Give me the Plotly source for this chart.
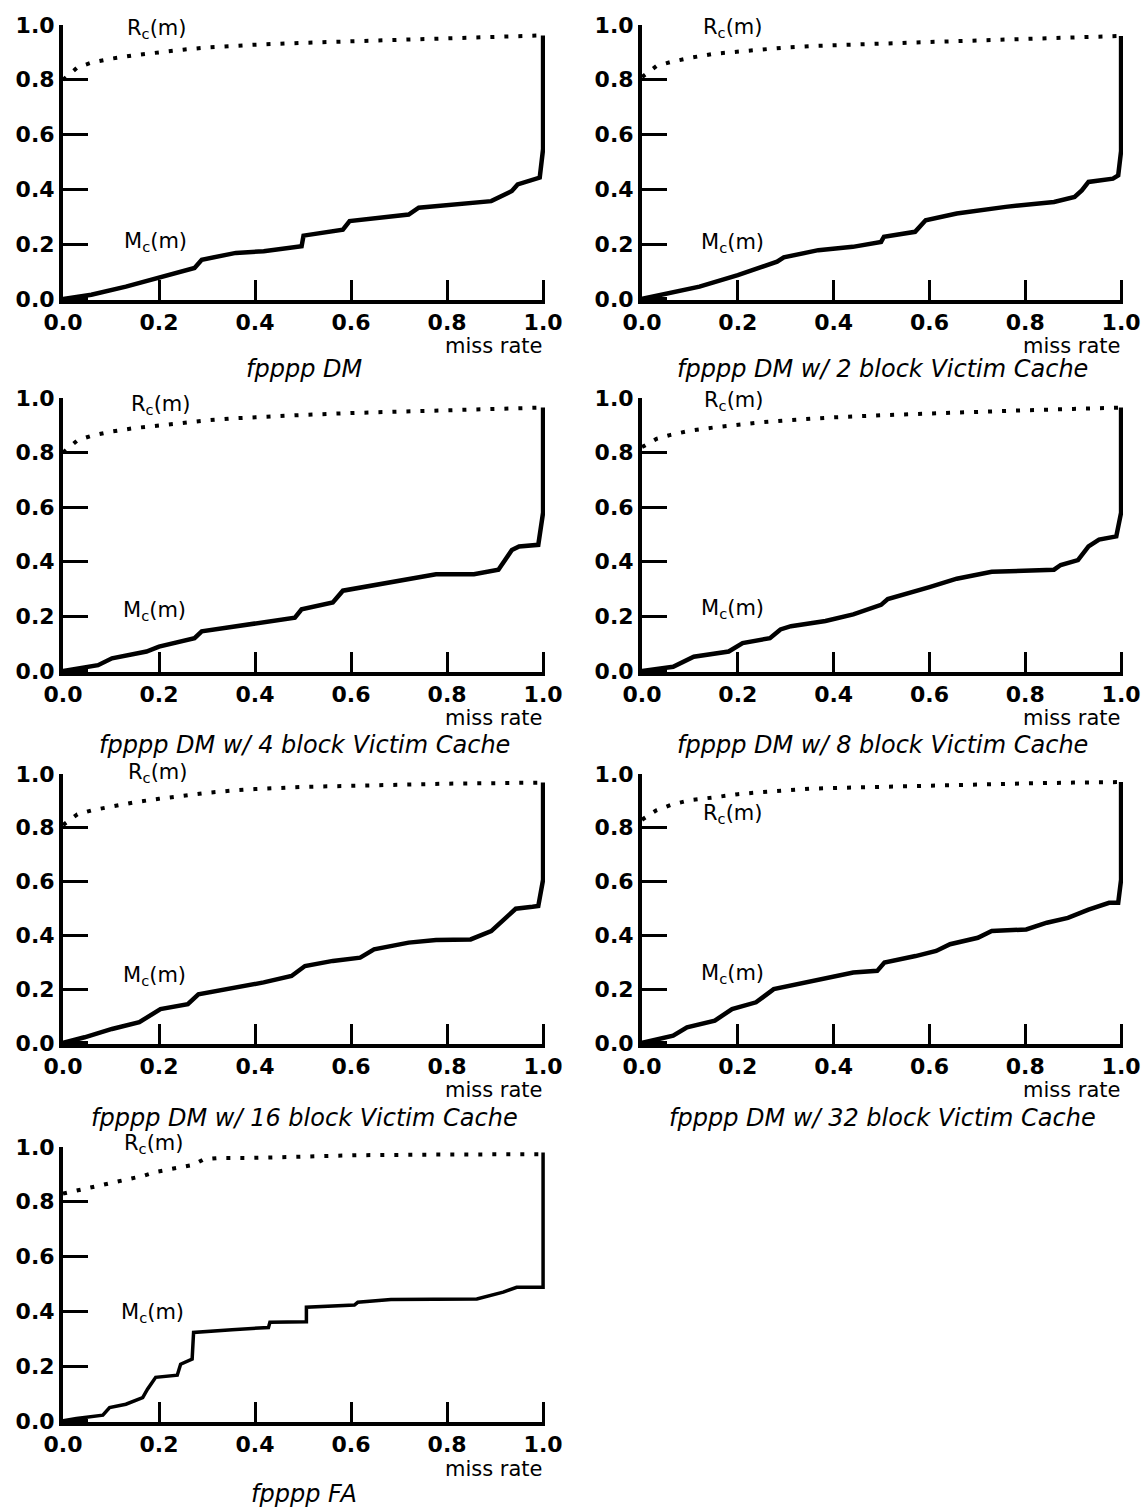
import plotly.graph_objects as go

# ---------------- data ----------------
titles = [
    "fpppp DM",
    "fpppp DM w/ 2 block Victim Cache",
    "fpppp DM w/ 4 block Victim Cache",
    "fpppp DM w/ 8 block Victim Cache",
    "fpppp DM w/ 16 block Victim Cache",
    "fpppp DM w/ 32 block Victim Cache",
    "fpppp FA",
]

r_x = [0.0, 0.03, 0.06, 0.1, 0.15, 0.2, 0.25, 0.3, 0.35, 0.4, 0.5, 0.6, 0.7, 0.8, 0.9, 1.0]
r1_y = [0.80, 0.845, 0.863, 0.877, 0.89, 0.901, 0.91, 0.918, 0.924, 0.928, 0.935, 0.941, 0.947, 0.952, 0.957, 0.962]
r2_y = [0.81, 0.85, 0.865, 0.88, 0.895, 0.903, 0.912, 0.918, 0.923, 0.927, 0.932, 0.938, 0.944, 0.95, 0.955, 0.96]
r3_y = [0.80, 0.845, 0.862, 0.877, 0.89, 0.90, 0.91, 0.918, 0.925, 0.93, 0.938, 0.945, 0.95, 0.955, 0.96, 0.965]
r4_y = [0.82, 0.85, 0.865, 0.88, 0.892, 0.902, 0.911, 0.918, 0.924, 0.929, 0.937, 0.944, 0.95, 0.955, 0.96, 0.965]
r5_y = [0.81, 0.85, 0.865, 0.88, 0.895, 0.908, 0.92, 0.93, 0.938, 0.944, 0.952, 0.957, 0.961, 0.964, 0.966, 0.968]
r6_y = [0.83, 0.865, 0.885, 0.903, 0.913, 0.925, 0.933, 0.94, 0.945, 0.948, 0.953, 0.957, 0.961, 0.965, 0.968, 0.97]
r7_x = [0.0, 0.028, 0.059, 0.09, 0.138, 0.166, 0.193, 0.217, 0.248, 0.272, 0.293, 0.324, 0.39, 0.49, 0.614, 0.752, 1.0]
r7_y = [0.83, 0.841, 0.854, 0.866, 0.882, 0.894, 0.909, 0.917, 0.924, 0.935, 0.955, 0.96, 0.96, 0.966, 0.97, 0.972, 0.974]

m1_x = [0, 0.059, 0.131, 0.2, 0.274, 0.289, 0.36, 0.418, 0.497, 0.501, 0.583, 0.597, 0.72, 0.741, 0.892, 0.935, 0.947, 0.993, 0.997, 1.0, 1.0]
m1_y = [0, 0.015, 0.045, 0.076, 0.113, 0.143, 0.168, 0.174, 0.192, 0.231, 0.253, 0.284, 0.308, 0.333, 0.357, 0.394, 0.418, 0.443, 0.498, 0.547, 0.962]

m2_x = [0, 0.05, 0.12, 0.2, 0.282, 0.296, 0.368, 0.44, 0.499, 0.505, 0.57, 0.592, 0.657, 0.759, 0.86, 0.903, 0.918, 0.932, 0.983, 0.994, 1.0, 1.0]
m2_y = [0, 0.018, 0.045, 0.087, 0.136, 0.152, 0.178, 0.19, 0.208, 0.227, 0.245, 0.287, 0.312, 0.336, 0.354, 0.372, 0.396, 0.427, 0.439, 0.451, 0.54, 0.96]

m3_x = [0, 0.073, 0.102, 0.174, 0.2, 0.274, 0.289, 0.36, 0.418, 0.483, 0.497, 0.562, 0.583, 0.662, 0.734, 0.777, 0.856, 0.907, 0.935, 0.95, 0.99, 0.997, 1.0, 1.0]
m3_y = [0, 0.021, 0.046, 0.071, 0.089, 0.12, 0.145, 0.164, 0.18, 0.195, 0.226, 0.251, 0.294, 0.319, 0.344, 0.354, 0.354, 0.371, 0.443, 0.456, 0.462, 0.53, 0.58, 0.965]

m4_x = [0, 0.065, 0.108, 0.181, 0.21, 0.267, 0.289, 0.311, 0.383, 0.441, 0.499, 0.513, 0.6, 0.657, 0.73, 0.802, 0.86, 0.874, 0.91, 0.932, 0.954, 0.99, 1.0, 1.0]
m4_y = [0, 0.015, 0.052, 0.071, 0.102, 0.12, 0.152, 0.164, 0.183, 0.207, 0.242, 0.263, 0.307, 0.338, 0.363, 0.369, 0.371, 0.388, 0.406, 0.456, 0.481, 0.493, 0.58, 0.965]

m5_x = [0, 0.045, 0.102, 0.159, 0.203, 0.26, 0.282, 0.361, 0.418, 0.476, 0.504, 0.562, 0.619, 0.648, 0.72, 0.777, 0.849, 0.892, 0.943, 0.978, 0.99, 1.0, 1.0]
m5_y = [0, 0.021, 0.052, 0.077, 0.126, 0.144, 0.181, 0.206, 0.225, 0.249, 0.286, 0.305, 0.317, 0.348, 0.373, 0.383, 0.385, 0.416, 0.499, 0.506, 0.509, 0.607, 0.968]

m6_x = [0, 0.065, 0.094, 0.152, 0.188, 0.238, 0.275, 0.34, 0.397, 0.441, 0.491, 0.506, 0.571, 0.614, 0.643, 0.701, 0.73, 0.802, 0.845, 0.889, 0.932, 0.975, 0.994, 1.0, 1.0]
m6_y = [0, 0.027, 0.058, 0.083, 0.126, 0.151, 0.2, 0.225, 0.247, 0.262, 0.268, 0.299, 0.323, 0.342, 0.367, 0.391, 0.416, 0.422, 0.447, 0.465, 0.496, 0.521, 0.521, 0.607, 0.97]

m7_x = [0, 0.028, 0.083, 0.097, 0.131, 0.166, 0.176, 0.193, 0.238, 0.245, 0.269, 0.272, 0.352, 0.428, 0.431, 0.507, 0.507, 0.607, 0.614, 0.683, 0.862, 0.917, 0.945, 1.0, 1.0]
m7_y = [0, 0.009, 0.021, 0.049, 0.061, 0.085, 0.116, 0.159, 0.167, 0.207, 0.226, 0.323, 0.333, 0.341, 0.36, 0.362, 0.415, 0.423, 0.433, 0.443, 0.445, 0.47, 0.488, 0.488, 0.98]

# label anchor positions (data coords) for R_c(m) and M_c(m)
r_lab = [(0.196, 0.985), (0.19, 0.99), (0.205, 0.975), (0.193, 0.99), (0.197, 1.005), (0.19, 0.85), (0.19, 1.01)]
m_lab = [(0.193, 0.207), (0.188, 0.205), (0.19, 0.22), (0.188, 0.226), (0.19, 0.249), (0.188, 0.256), (0.187, 0.393)]

tick_vals = [0.0, 0.2, 0.4, 0.6, 0.8, 1.0]
tick_text = ["0.0", "0.2", "0.4", "0.6", "0.8", "1.0"]

R_series = [(r_x, r1_y), (r_x, r2_y), (r_x, r3_y), (r_x, r4_y), (r_x, r5_y), (r_x, r6_y), (r7_x, r7_y)]
M_series = [(m1_x, m1_y), (m2_x, m2_y), (m3_x, m3_y), (m4_x, m4_y), (m5_x, m5_y), (m6_x, m6_y), (m7_x, m7_y)]

# ---------------- layout geometry ----------------
W, H = 1146, 1510
col_px = [(63, 545), (642, 1123)]
row_px = [(25, 300), (398, 672), (774, 1044), (1147, 1422)]
miss_off = [-0.167, -0.168, -0.17, -0.172]
title_off = [-0.25, -0.266, -0.274, -0.262]
XR = [0, 1.004]
YR = [-0.004, 1.0]

FONT = "DejaVu Sans, Liberation Sans, Arial, sans-serif"

fig = go.Figure()
layout = dict(
    template="none",
    width=W, height=H, margin=dict(l=0, r=0, t=0, b=0, pad=0, autoexpand=False),
    paper_bgcolor="white", plot_bgcolor="white", showlegend=False,
    font=dict(family=FONT, color="black"),
)
annotations = []


def xd(v):
    return (v - XR[0]) / (XR[1] - XR[0])


def yd(v):
    return (v - YR[0]) / (YR[1] - YR[0])


for i in range(7):
    row, col = divmod(i, 2)
    n = "" if i == 0 else str(i + 1)
    xa, ya = "x" + n, "y" + n
    x0, x1 = col_px[col]
    ytop, ybot = row_px[row]
    axis_common = dict(
        automargin=False,
        showgrid=False, zeroline=False, showline=True, linecolor="black", linewidth=4,
        ticks="inside", tickwidth=2.5, tickcolor="black",
        tickvals=tick_vals, ticktext=tick_text,
        tickfont=dict(family=FONT, size=22, color="black", weight="bold"),
        fixedrange=True,
    )
    layout["xaxis" + n] = dict(domain=[x0 / W, x1 / W], range=XR, anchor=ya, ticklen=20, **axis_common)
    layout["yaxis" + n] = dict(domain=[1 - ybot / H, 1 - ytop / H], range=YR, anchor=xa, ticklen=25, **axis_common)
    rx, ry = R_series[i]
    mx, my = M_series[i]
    fig.add_trace(go.Scatter(x=rx, y=ry, mode="lines", xaxis=xa, yaxis=ya,
                             line=dict(color="black", width=4, dash="4px,10px")))
    fig.add_trace(go.Scatter(x=mx, y=my, mode="lines", xaxis=xa, yaxis=ya,
                             line=dict(color="black", width=3.5 if i == 6 else 4.5)))
    dref = dict(xref=xa + " domain", yref=ya + " domain", showarrow=False)
    annotations.append(dict(x=xd(r_lab[i][0]), y=yd(r_lab[i][1]), xanchor="center", yanchor="middle",
                            text="R<sub>c</sub>(m)",
                            font=dict(size=21, family=FONT, color="black"), **dref))
    annotations.append(dict(x=xd(m_lab[i][0]), y=yd(m_lab[i][1]), xanchor="center", yanchor="middle",
                            text="M<sub>c</sub>(m)",
                            font=dict(size=21, family=FONT, color="black"), **dref))
    annotations.append(dict(x=1.0, y=miss_off[row], xanchor="right", yanchor="middle",
                            text="miss rate", font=dict(size=21, family=FONT, color="black"), **dref))
    annotations.append(dict(x=0.5, y=title_off[row], xanchor="center", yanchor="middle",
                            text="<i>" + titles[i] + "</i>",
                            font=dict(size=24, family=FONT, color="black"), **dref))

layout["annotations"] = annotations
fig.update_layout(**layout)
fig.write_html("out.html")
